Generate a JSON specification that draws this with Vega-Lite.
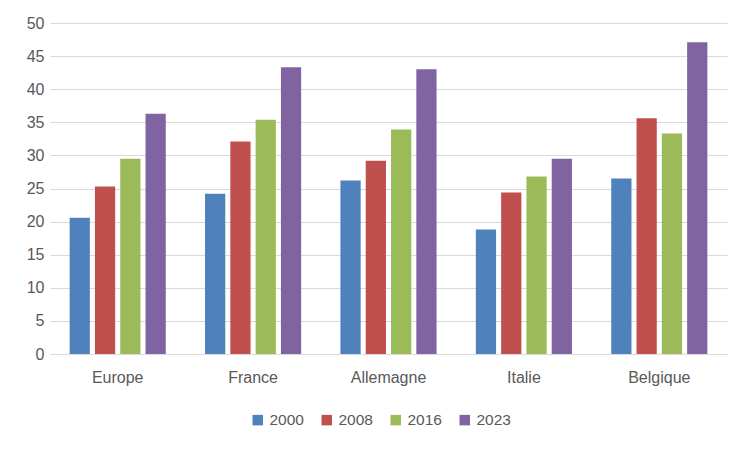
{
  "$schema": "https://vega.github.io/schema/vega-lite/v6.json",
  "width": 677,
  "height": 331,
  "autosize": {"type": "none"},
  "padding": {"left": 50, "top": 23, "right": 23, "bottom": 96},
  "background": "white",
  "config": {
    "view": {"stroke": null},
    "font": "Liberation Sans",
    "axis": {"labelFont": "Liberation Sans", "labelColor": "#595959", "labelFontSize": 16}
  },
  "data": {
    "values": [
      {"pays": "Europe", "annee": "2000", "valeur": 20.6},
      {"pays": "Europe", "annee": "2008", "valeur": 25.3},
      {"pays": "Europe", "annee": "2016", "valeur": 29.5},
      {"pays": "Europe", "annee": "2023", "valeur": 36.3},
      {"pays": "France", "annee": "2000", "valeur": 24.2},
      {"pays": "France", "annee": "2008", "valeur": 32.1},
      {"pays": "France", "annee": "2016", "valeur": 35.4},
      {"pays": "France", "annee": "2023", "valeur": 43.3},
      {"pays": "Allemagne", "annee": "2000", "valeur": 26.2},
      {"pays": "Allemagne", "annee": "2008", "valeur": 29.2},
      {"pays": "Allemagne", "annee": "2016", "valeur": 33.9},
      {"pays": "Allemagne", "annee": "2023", "valeur": 43.0},
      {"pays": "Italie", "annee": "2000", "valeur": 18.8},
      {"pays": "Italie", "annee": "2008", "valeur": 24.4},
      {"pays": "Italie", "annee": "2016", "valeur": 26.8},
      {"pays": "Italie", "annee": "2023", "valeur": 29.5},
      {"pays": "Belgique", "annee": "2000", "valeur": 26.5},
      {"pays": "Belgique", "annee": "2008", "valeur": 35.6},
      {"pays": "Belgique", "annee": "2016", "valeur": 33.3},
      {"pays": "Belgique", "annee": "2023", "valeur": 47.1}
    ]
  },
  "mark": {"type": "bar"},
  "encoding": {
    "x": {
      "field": "pays", "type": "nominal", "sort": null,
      "scale": {"paddingInner": 0.29, "paddingOuter": 0.145},
      "axis": {"title": null, "labelAngle": 0, "ticks": false, "domainColor": "#D9D9D9", "domainWidth": 1, "labelPadding": 15}
    },
    "xOffset": {"field": "annee", "type": "nominal", "scale": {"paddingInner": 0.2}},
    "y": {
      "field": "valeur", "type": "quantitative",
      "scale": {"domain": [0, 50], "nice": false},
      "axis": {"title": null, "values": [0,5,10,15,20,25,30,35,40,45,50], "labelOverlap": false, "domain": false, "ticks": false, "gridColor": "#D9D9D9", "gridWidth": 1, "labelPadding": 6}
    },
    "color": {
      "field": "annee", "type": "nominal",
      "scale": {"domain": ["2000", "2008", "2016", "2023"], "range": ["#4F81BD", "#C0504D", "#9BBB59", "#8064A2"]},
      "legend": {"title": null, "orient": "none", "legendX": 200, "legendY": 389, "direction": "horizontal", "symbolType": "square", "symbolSize": 110, "symbolStrokeWidth": 0, "labelFontSize": 15.5, "labelColor": "#595959", "labelFont": "Liberation Sans", "columnPadding": 15}
    }
  }
}
